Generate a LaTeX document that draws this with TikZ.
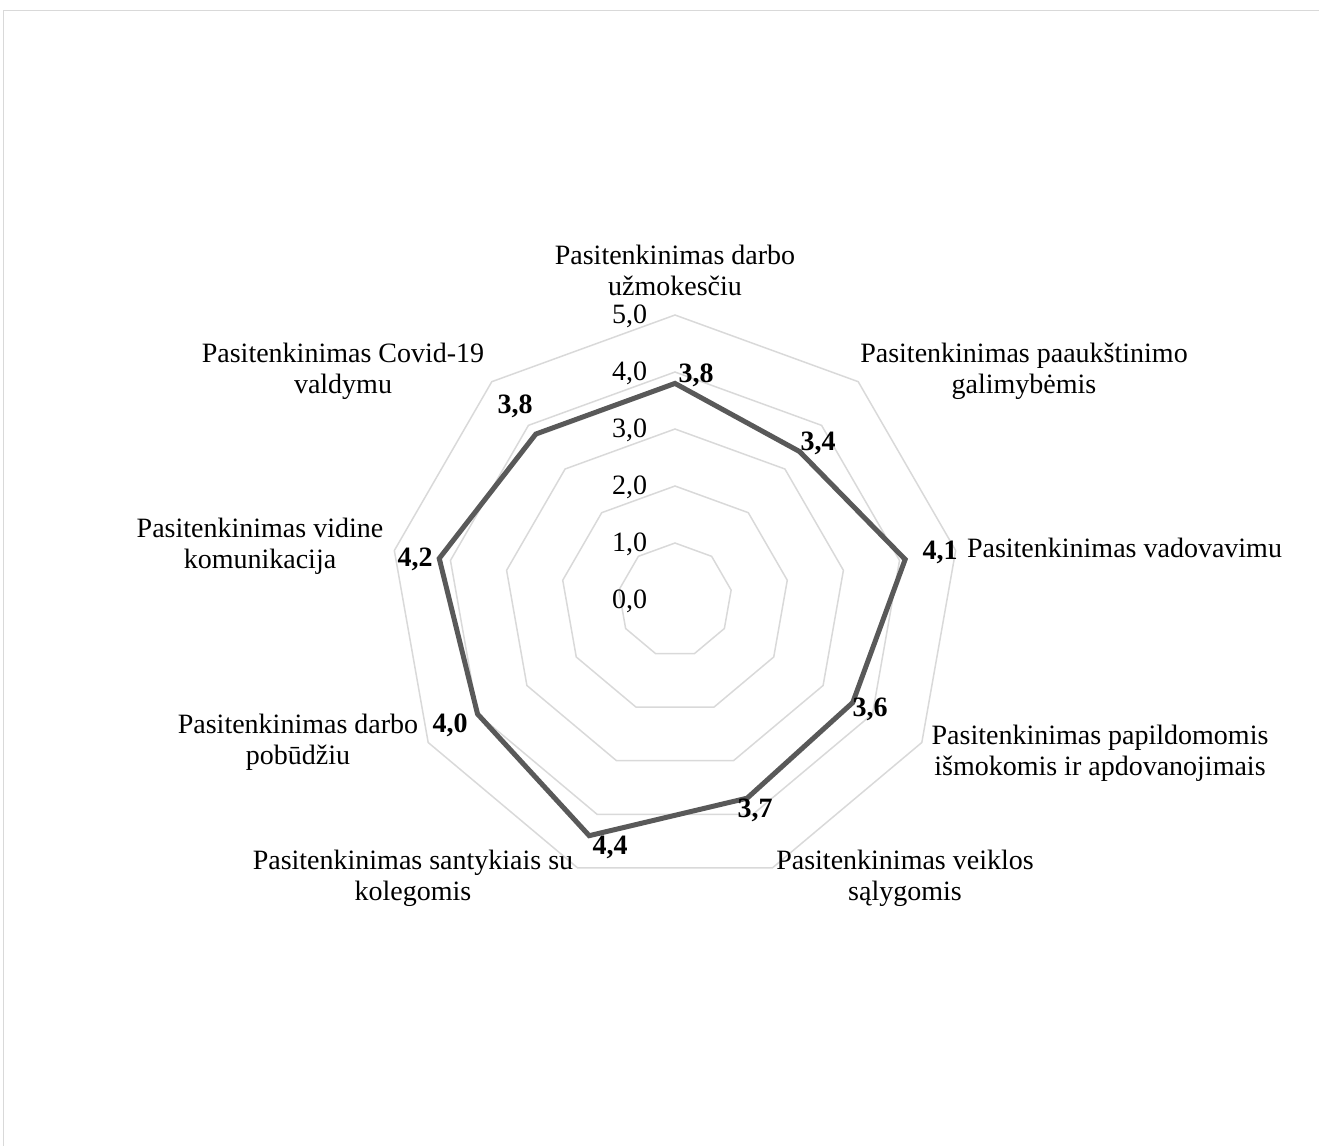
\documentclass[tikz,border=0pt]{standalone}
\usepackage{fontspec}
\setmainfont{Liberation Serif}
\usetikzlibrary{calc}
\definecolor{gridgray}{RGB}{217,217,217}
\definecolor{seriesgray}{RGB}{89,89,89}
\begin{document}
\begin{tikzpicture}[x=0.5pt,y=-0.5pt,
  every node/.style={inner sep=0pt, outer sep=0pt},
  ring/.style={draw=gridgray, line width=0.75pt},
  frame/.style={draw=gridgray, line width=0.75pt},
  series/.style={draw=seriesgray, line width=2.5pt, line join=miter},
  catlabel/.style={font=\fontsize{14}{15.5}\selectfont, align=center, anchor=base},
  vallabel/.style={font=\fontsize{14}{15.5}\selectfont\bfseries, anchor=base},
  ticklabel/.style={font=\fontsize{14}{15.5}\selectfont, anchor=base east}]
\useasboundingbox (0,0) rectangle (1319,1146);
% chart area border (only its top and left edges fall on the page)
\draw[frame] (3.5,1146) -- (3.5,10.5) -- (1319,10.5);
% centre of the radar
\coordinate (O) at (675,600);
% grid rings for 1..5, one step = 57 units
\foreach \k in {1,...,5} {
  \draw[ring, shift={(O)}] (-90:{57*\k})
    \foreach \i in {1,...,8} { -- ({40*\i-90}:{57*\k}) } -- cycle;
}
% scale labels
\foreach \k in {0,...,5} {
  \node[ticklabel] (t\k) at (647,{608-57*\k}) {\k,0};
}
% data points
\foreach \v [count=\i from 0] in {3.8,3.4,4.1,3.6,3.7,4.4,4.0,4.2,3.8} {
  \coordinate (p\i) at ($(O)+({40*\i-90}:{57*\v})$);
}
\draw[series] (p0) -- (p1) -- (p2) -- (p3) -- (p4) -- (p5) -- (p6) -- (p7) -- (p8) -- cycle;
% value labels
\node[vallabel] (v0) at (696,382) {3,8};
\node[vallabel] (v1) at (818,450) {3,4};
\node[vallabel] (v2) at (940,559) {4,1};
\node[vallabel] (v3) at (870,716) {3,6};
\node[vallabel] (v4) at (755,817) {3,7};
\node[vallabel] (v5) at (610,854) {4,4};
\node[vallabel] (v6) at (450,732) {4,0};
\node[vallabel] (v7) at (415,566) {4,2};
\node[vallabel] (v8) at (515,413) {3,8};
% category labels (base anchor = baseline of the last line)
\node[catlabel] (c0) at (675,295) {Pasitenkinimas darbo\\užmokesčiu};
\node[catlabel] (c1) at (1024,393) {Pasitenkinimas paaukštinimo\\galimybėmis};
\node[catlabel, anchor=base west] (c2) at (967,557) {Pasitenkinimas vadovavimu};
\node[catlabel] (c3) at (1100,775) {Pasitenkinimas papildomomis\\išmokomis ir apdovanojimais};
\node[catlabel] (c4) at (905,900) {Pasitenkinimas veiklos\\sąlygomis};
\node[catlabel] (c5) at (413,900) {Pasitenkinimas santykiais su\\kolegomis};
\node[catlabel] (c6) at (298,764) {Pasitenkinimas darbo\\pobūdžiu};
\node[catlabel] (c7) at (260,568) {Pasitenkinimas vidine\\komunikacija};
\node[catlabel] (c8) at (343,393) {Pasitenkinimas Covid-19\\valdymu};
\end{tikzpicture}
\end{document}
